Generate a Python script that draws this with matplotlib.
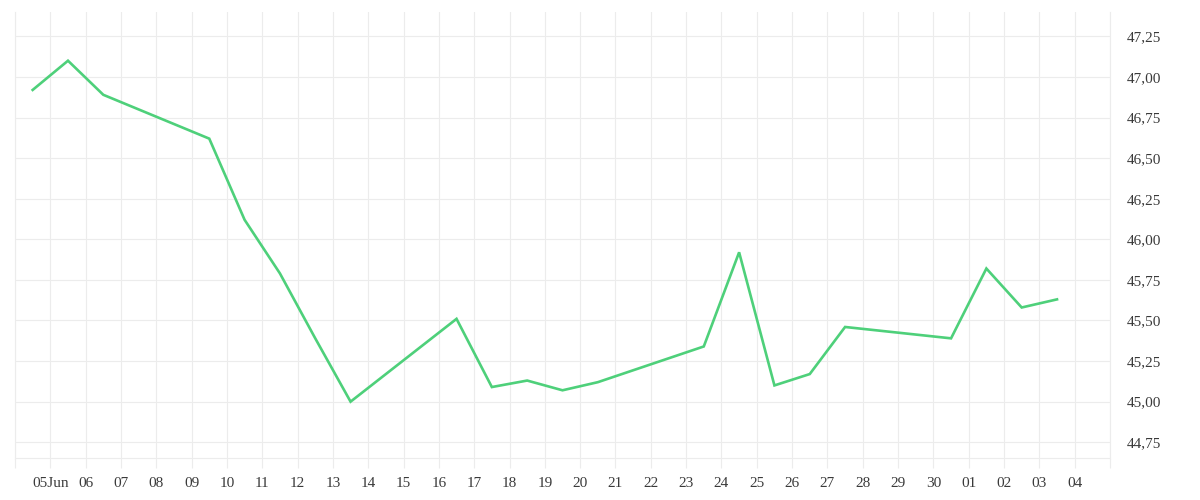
import pandas as pd
import numpy as np
import matplotlib.pyplot as plt
import matplotlib.dates as mdates

# Data (one point per trading day, plotted at midday)
dates = ['2024-06-04', '2024-06-05', '2024-06-06', '2024-06-09', '2024-06-10',
         '2024-06-11', '2024-06-12', '2024-06-13', '2024-06-16', '2024-06-17',
         '2024-06-18', '2024-06-19', '2024-06-20', '2024-06-23', '2024-06-24',
         '2024-06-25', '2024-06-26', '2024-06-27', '2024-06-30', '2024-07-01',
         '2024-07-02', '2024-07-03']
values = [46.92, 47.10, 46.89, 46.62, 46.12, 45.79, 45.39, 45.00, 45.51, 45.09,
          45.13, 45.07, 45.12, 45.34, 45.92, 45.10, 45.17, 45.46, 45.39, 45.82,
          45.58, 45.63]
y_ticks = [44.75, 45.00, 45.25, 45.50, 45.75, 46.00, 46.25, 46.50, 46.75, 47.00, 47.25]

x = pd.to_datetime(dates) + pd.Timedelta(hours=12)

plt.rcParams['font.family'] = ['Liberation Serif', 'DejaVu Serif']

grid_col = '#ececec'
text_col = '#3a3a3a'

fig = plt.figure(figsize=(12, 5), dpi=100)
ax = fig.add_axes([0.0125, 0.084, 0.9125, 0.892])

ax.plot(x, values, color='#4ed07a', linewidth=1.9, solid_joinstyle='miter')

# x axis: one tick per day, first one with month
day_ticks = pd.date_range('2024-06-04', '2024-07-05', freq='D')
ax.set_xlim(day_ticks[0], day_ticks[-1])
ax.set_xticks(day_ticks)
labels = [d.strftime('%d') for d in day_ticks]
labels[1] = '05Jun'
labels[0] = ''
labels[-1] = ''
ax.set_xticklabels(labels)

# y axis on the right, comma decimals
ax.set_ylim(44.653, 47.40)
ax.yaxis.tick_right()
ax.set_yticks(y_ticks)
ax.set_yticklabels([f'{v:.2f}'.replace('.', ',') for v in y_ticks])

ax.grid(True, color=grid_col, linewidth=0.8)
ax.set_axisbelow(True)
ax.tick_params(axis='x', length=7, width=0.8, color=grid_col, labelcolor=text_col,
               labelsize=11, pad=7)
ax.tick_params(axis='y', length=0, labelcolor=text_col, labelsize=11, pad=12)

for side in ['left', 'bottom', 'right']:
    ax.spines[side].set_color(grid_col)
    ax.spines[side].set_linewidth(0.8)
ax.spines['top'].set_visible(False)

plt.savefig('out.png', dpi=100)
